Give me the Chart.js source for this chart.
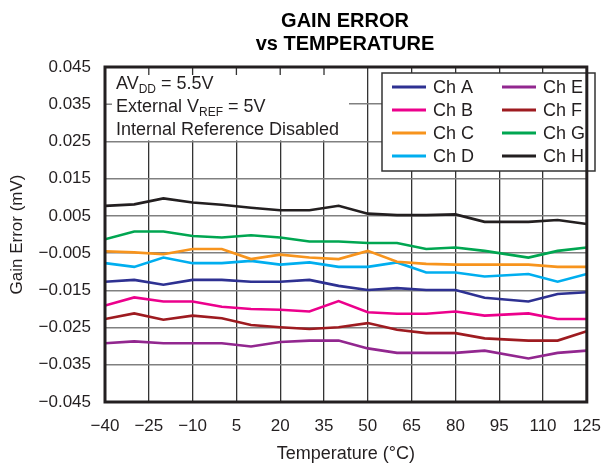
<!DOCTYPE html>
<html>
<head>
<meta charset="utf-8">
<script src="https://cdn.jsdelivr.net/npm/chart.js@4.4.1/dist/chart.umd.min.js"></script>
<style>
  html, body { margin: 0; padding: 0; background: #fff; }
  #wrap { width: 615px; height: 466px; }
</style>
</head>
<body>
<div id="wrap"><canvas id="gainChart" width="615" height="466"></canvas></div>
<script>
// temperatures (°C) where the curves have vertices
const temps = [-40, -30, -20, -10, 0, 10, 20, 30, 40, 50, 60, 70, 80, 90, 105, 115, 125];

// gain error (mV) per channel
const chA = [-0.0127, -0.0122, -0.0135, -0.0122, -0.0122, -0.0127, -0.0127, -0.0122, -0.0138, -0.0149, -0.0144, -0.0149, -0.0149, -0.0170, -0.0180, -0.0160, -0.0155];
const chB = [-0.0191, -0.0169, -0.0180, -0.0180, -0.0194, -0.0200, -0.0202, -0.0207, -0.0179, -0.0209, -0.0213, -0.0213, -0.0207, -0.0218, -0.0212, -0.0227, -0.0227];
const chC = [-0.0045, -0.0048, -0.0053, -0.0039, -0.0039, -0.0066, -0.0054, -0.0062, -0.0066, -0.0044, -0.0073, -0.0079, -0.0081, -0.0081, -0.0081, -0.0087, -0.0087];
const chD = [-0.0077, -0.0087, -0.0062, -0.0077, -0.0077, -0.0071, -0.0081, -0.0075, -0.0087, -0.0087, -0.0075, -0.0102, -0.0102, -0.0113, -0.0106, -0.0127, -0.0106];
const chE = [-0.0292, -0.0287, -0.0292, -0.0292, -0.0292, -0.0301, -0.0289, -0.0285, -0.0285, -0.0306, -0.0318, -0.0318, -0.0318, -0.0312, -0.0333, -0.0318, -0.0312];
const chF = [-0.0227, -0.0212, -0.0229, -0.0218, -0.0225, -0.0243, -0.0249, -0.0254, -0.0249, -0.0238, -0.0256, -0.0265, -0.0265, -0.0279, -0.0285, -0.0285, -0.0260];
const chG = [-0.0013, 0.0008, 0.0008, -0.0004, -0.0008, -0.0002, -0.0008, -0.0019, -0.0019, -0.0023, -0.0023, -0.0039, -0.0035, -0.0044, -0.0062, -0.0044, -0.0035];
const chH = [0.0077, 0.0081, 0.0097, 0.0086, 0.0080, 0.0072, 0.0065, 0.0065, 0.0077, 0.0056, 0.0052, 0.0052, 0.0054, 0.0034, 0.0034, 0.0039, 0.0028];

const channelNames = ['Ch A', 'Ch B', 'Ch C', 'Ch D', 'Ch E', 'Ch F', 'Ch G', 'Ch H'];

const xTicks = [-40, -25, -10, 5, 20, 35, 50, 65, 80, 95, 110, 125];
const xTickLabels = ['\u221240', '\u221225', '\u221210', '5', '20', '35', '50', '65', '80', '95', '110', '125'];
const yTicks = [-0.045, -0.035, -0.025, -0.015, -0.005, 0.005, 0.015, 0.025, 0.035, 0.045];
const yTickLabels = ['\u22120.045', '\u22120.035', '\u22120.025', '\u22120.015', '\u22120.005', '0.005', '0.015', '0.025', '0.035', '0.045'];

const colors = ['#2e3192', '#ec008c', '#f7941d', '#00aeef', '#92278f', '#9e1b20', '#00a651', '#231f20'];
const FONT = 'Liberation Sans, Arial, sans-serif';

const series = [chA, chB, chC, chD, chE, chF, chG, chH];
const datasets = series.map((vals, i) => ({
    label: channelNames[i],
    data: temps.map((t, j) => ({ x: t, y: vals[j] })),
    borderColor: colors[i],
    backgroundColor: colors[i],
    borderWidth: 2.6,
    pointRadius: 0,
    tension: 0,
    fill: false
}));

// text with a subscript piece, drawn left to right
function drawRuns(ctx, runs, x, y) {
    runs.forEach(r => {
        ctx.font = r.sub ? `12px ${FONT}` : `18px ${FONT}`;
        ctx.fillText(r.t, x, r.sub ? y + 4 : y);
        x += ctx.measureText(r.t).width;
    });
}

const decorations = {
    id: 'decorations',
    beforeDatasetsDraw(chart) {
        const ctx = chart.ctx;
        const a = chart.chartArea;
        const xs = chart.scales.x, ys = chart.scales.y;
        ctx.save();
        // white panel behind the conditions text
        const boxRight = 349;
        const boxBottom = ys.getPixelForValue(0.025) - 1;
        ctx.fillStyle = '#fff';
        ctx.fillRect(a.left + 1, a.top + 1, boxRight - a.left - 1, boxBottom - a.top - 1);
        // short ticks left visible on the frame
        ctx.strokeStyle = '#333';
        ctx.lineWidth = 1.3;
        xTicks.forEach(v => {
            const px = xs.getPixelForValue(v);
            if (px > a.left + 5 && px < boxRight) {
                ctx.beginPath();
                ctx.moveTo(px, a.top);
                ctx.lineTo(px, a.top + 8);
                ctx.stroke();
            }
        });
        ctx.strokeStyle = '#808080';
        ctx.lineWidth = 1.5;
        const py = ys.getPixelForValue(0.035);
        ctx.beginPath();
        ctx.moveTo(a.left, py);
        ctx.lineTo(a.left + 7, py);
        ctx.stroke();

        ctx.fillStyle = '#231f20';
        ctx.textBaseline = 'alphabetic';
        ctx.textAlign = 'left';
        drawRuns(ctx, [{ t: 'AV' }, { t: 'DD', sub: true }, { t: ' = 5.5V' }], 116, 89);
        drawRuns(ctx, [{ t: 'External V' }, { t: 'REF', sub: true }, { t: ' = 5V' }], 116, 112);
        drawRuns(ctx, [{ t: 'Internal Reference Disabled' }], 116, 135);

        // legend box
        const lx = 382, ly = 73, lw = 213, lh = 98;
        ctx.fillStyle = '#fff';
        ctx.fillRect(lx, ly, lw, lh);
        ctx.strokeStyle = '#333';
        ctx.lineWidth = 1.5;
        ctx.strokeRect(lx, ly, lw, lh);
        ctx.font = `18px ${FONT}`;
        ctx.textBaseline = 'middle';
        chart.data.datasets.forEach((ds, i) => {
            const col = Math.floor(i / 4), row = i % 4;
            const x0 = col === 0 ? 392 : 502;
            const yy = 87 + row * 23;
            ctx.strokeStyle = ds.borderColor;
            ctx.lineWidth = 3;
            ctx.beginPath();
            ctx.moveTo(x0, yy);
            ctx.lineTo(x0 + 34, yy);
            ctx.stroke();
            ctx.fillStyle = '#231f20';
            ctx.fillText(ds.label, x0 + 41, yy + 1);
        });
        ctx.restore();
    },
    afterDraw(chart) {
        const ctx = chart.ctx;
        const a = chart.chartArea;
        ctx.save();
        ctx.strokeStyle = '#231f20';
        ctx.lineWidth = 3;
        ctx.strokeRect(a.left, a.top, a.right - a.left, a.bottom - a.top);
        ctx.fillStyle = '#000';
        ctx.font = `bold 20px ${FONT}`;
        ctx.textAlign = 'center';
        ctx.textBaseline = 'alphabetic';
        ctx.fillText('GAIN ERROR', 345, 27);
        ctx.fillText('vs TEMPERATURE', 345, 50);
        ctx.restore();
    }
};

new Chart(document.getElementById('gainChart'), {
    type: 'line',
    data: { datasets: datasets },
    options: {
        responsive: false,
        devicePixelRatio: 1,
        animation: false,
        layout: { padding: { left: 0, right: 15, top: 67, bottom: 0 } },
        plugins: {
            legend: { display: false },
            title: { display: false },
            tooltip: { enabled: false }
        },
        scales: {
            x: {
                type: 'linear',
                min: -40,
                max: 125,
                afterBuildTicks: scale => { scale.ticks = xTicks.map(v => ({ value: v })); },
                afterFit: scale => { scale.height = 64; },
                grid: { color: '#333', lineWidth: 1.3, drawTicks: false },
                border: { display: false },
                ticks: {
                    padding: 14,
                    color: '#231f20',
                    font: { family: FONT, size: 17 },
                    maxRotation: 0,
                    autoSkip: false,
                    callback: (v, i) => xTickLabels[i]
                },
                title: {
                    display: true,
                    text: 'Temperature (\u00b0C)',
                    color: '#231f20',
                    font: { family: FONT, size: 18 },
                    padding: { top: 0, bottom: 1 }
                }
            },
            y: {
                type: 'linear',
                min: -0.045,
                max: 0.045,
                afterBuildTicks: scale => { scale.ticks = yTicks.map(v => ({ value: v })); },
                afterFit: scale => { scale.width = 105; },
                grid: { color: '#808080', lineWidth: 1.5, drawTicks: false },
                border: { display: false },
                ticks: {
                    padding: 14,
                    color: '#231f20',
                    font: { family: FONT, size: 17 },
                    autoSkip: false,
                    callback: (v, i) => yTickLabels[i]
                },
                title: {
                    display: true,
                    text: 'Gain Error (mV)',
                    color: '#231f20',
                    font: { family: FONT, size: 17 },
                    padding: { top: 7, bottom: 0 }
                }
            }
        }
    },
    plugins: [decorations]
});
</script>
</body>
</html>
